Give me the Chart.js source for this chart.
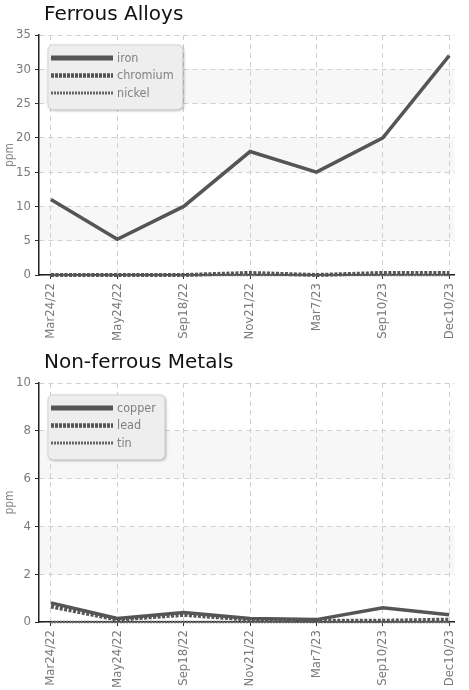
<!DOCTYPE html>
<html><head><meta charset="utf-8">
<script src="https://cdn.jsdelivr.net/npm/chart.js@4.4.1/dist/chart.umd.min.js"></script>
<style>
body{margin:0;background:#fff;width:469px;height:690px;overflow:hidden;position:relative}
.w{position:absolute;left:0;width:469px}
#w1{top:0;height:348px}
#w2{top:348px;height:342px}
</style></head><body>
<div class="w" id="w1"><canvas id="c1"></canvas></div>
<div class="w" id="w2"><canvas id="c2"></canvas></div>
<script>
const dates = ['Mar24/22','May24/22','Sep18/22','Nov21/22','Mar7/23','Sep10/23','Dec10/23'];
const iron     = [11, 5.2, 10, 18, 15, 20, 32];
const chromium = [0, 0, 0, 0.3, 0, 0.3, 0.3];
const nickel   = [0, 0, 0, 0, 0, 0, 0];
const copper   = [0.8, 0.15, 0.4, 0.15, 0.1, 0.6, 0.3];
const lead     = [0.65, 0.1, 0.3, 0.1, 0.05, 0.05, 0.1];
const tin      = [0, 0, 0, 0, 0, 0, 0];
const ferrousYTicks = [0, 5, 10, 15, 20, 25, 30, 35];
const nonFerrousYTicks = [0, 2, 4, 6, 8, 10];

const NARROW = "'Liberation Sans Narrow','DejaVu Sans Condensed',sans-serif";
const LINE = '#555555';
const styles = [
  {borderColor: LINE, borderWidth: 3.5, borderDash: [], legendWidth: 5, legendDash: []},
  {borderColor: LINE, borderWidth: 4, borderDash: [3, 1.5], legendWidth: 4.5, legendDash: [3, 1]},
  {borderColor: '#666666', borderWidth: 2.5, borderDash: [2, 1], legendWidth: 3, legendDash: [2, 1]}
];

const bandsPlugin = {
  id: 'bands',
  beforeDraw(chart, args, opts) {
    const {ctx, chartArea: a, scales: {y}} = chart;
    const t = opts.ticks;
    ctx.save();
    ctx.fillStyle = '#f7f7f7';
    for (let k = 1; k < t.length - 1; k += 2) {
      const y1 = y.getPixelForValue(t[k + 1]), y0 = y.getPixelForValue(t[k]);
      ctx.fillRect(a.left, y1, a.right - a.left, y0 - y1);
    }
    ctx.restore();
  }
};

const titleShift = {
  id: 'titleShift',
  afterLayout(chart) {
    if (chart.titleBlock) { chart.titleBlock.left += 5; chart.titleBlock.right += 5; }
  }
};

const boxLegend = {
  id: 'boxLegend',
  afterDatasetsDraw(chart, args, opts) {
    const {ctx, chartArea: a} = chart;
    const ds = chart.data.datasets;
    ctx.save();
    ctx.font = "12.5px " + NARROW;
    let tw = 0;
    ds.forEach(d => { tw = Math.max(tw, ctx.measureText(d.label).width); });
    const x = a.left + 9, y = a.top + opts.dy;
    const w = 3 + 62 + 4 + tw + 9, h = 12 + ds.length * opts.row;
    ctx.shadowColor = 'rgba(0,0,0,0.35)';
    ctx.shadowBlur = 3; ctx.shadowOffsetX = 1; ctx.shadowOffsetY = 1;
    ctx.beginPath();
    ctx.roundRect(x, y, w, h, 5);
    ctx.fillStyle = '#eeeeee';
    ctx.fill();
    ctx.shadowColor = 'transparent';
    ctx.strokeStyle = '#d4d4d4';
    ctx.lineWidth = 1;
    ctx.stroke();
    ds.forEach((d, i) => {
      const cy = y + 13 + i * opts.row;
      ctx.beginPath();
      ctx.setLineDash(d.legendDash);
      ctx.lineWidth = d.legendWidth;
      ctx.strokeStyle = d.borderColor;
      ctx.moveTo(x + 3, cy); ctx.lineTo(x + 65, cy);
      ctx.stroke();
      ctx.setLineDash([]);
      ctx.fillStyle = '#808080';
      ctx.textBaseline = 'middle';
      ctx.fillText(d.label, x + 69, cy + 0.5);
    });
    ctx.restore();
  }
};

function makeChart(id, title, names, series, yTicks, xH, legendDy) {
  const datasets = series.map((s, i) => Object.assign({
    label: names[i],
    data: s.map((v, j) => ({x: j, y: v})),
    pointRadius: 0,
    fill: false,
    tension: 0,
    clip: 8
  }, styles[i]));
  return new Chart(document.getElementById(id), {
    type: 'line',
    data: {datasets},
    plugins: [bandsPlugin, titleShift, boxLegend],
    options: {
      responsive: true, maintainAspectRatio: false, animation: false, devicePixelRatio: 1,
      layout: {padding: {left: 0, right: 2, top: 0, bottom: 0}},
      plugins: {
        legend: {display: false},
        tooltip: {enabled: false},
        title: {display: true, text: title, align: 'start', fullSize: false, color: '#111',
          font: {family: "'DejaVu Sans',sans-serif", size: 20, weight: 'normal'},
          padding: {top: 3, bottom: 8}},
        bands: {ticks: yTicks},
        boxLegend: {dy: legendDy, row: 17.5}
      },
      scales: {
        x: {
          type: 'linear', min: -0.18, max: 6.08,
          afterBuildTicks: s => { s.ticks = dates.map((_, i) => ({value: i})); },
          afterFit: s => { s.height = xH; },
          ticks: {autoSkip: false, maxRotation: 90, minRotation: 90, padding: 4,
            color: '#7a7a7a', font: {family: NARROW, size: 13},
            callback: v => dates[v]},
          grid: {color: '#d0d0d0', tickColor: '#333', tickLength: 4, tickBorderDash: [], tickWidth: 1},
          border: {display: true, color: '#222', width: 1.5, dash: [5, 4]}
        },
        y: {
          min: yTicks[0], max: yTicks[yTicks.length - 1],
          afterBuildTicks: s => { s.ticks = yTicks.map(v => ({value: v})); },
          afterFit: s => { s.width = 39; },
          title: {display: true, text: 'ppm', color: '#8a8a8a', font: {family: NARROW, size: 12}, padding: {top: 3, bottom: 0}},
          ticks: {padding: 4, color: '#7a7a7a', font: {family: NARROW, size: 13}},
          grid: {color: '#d0d0d0', tickColor: '#333', tickLength: 4, tickBorderDash: [], tickWidth: 1},
          border: {display: true, color: '#222', width: 1.5, dash: [5, 4]}
        }
      }
    }
  });
}

makeChart('c1', 'Ferrous Alloys', ['iron', 'chromium', 'nickel'], [iron, chromium, nickel], ferrousYTicks, 73, 10);
makeChart('c2', 'Non-ferrous Metals', ['copper', 'lead', 'tin'], [copper, lead, tin], nonFerrousYTicks, 68, 12);
</script>
</body></html>
